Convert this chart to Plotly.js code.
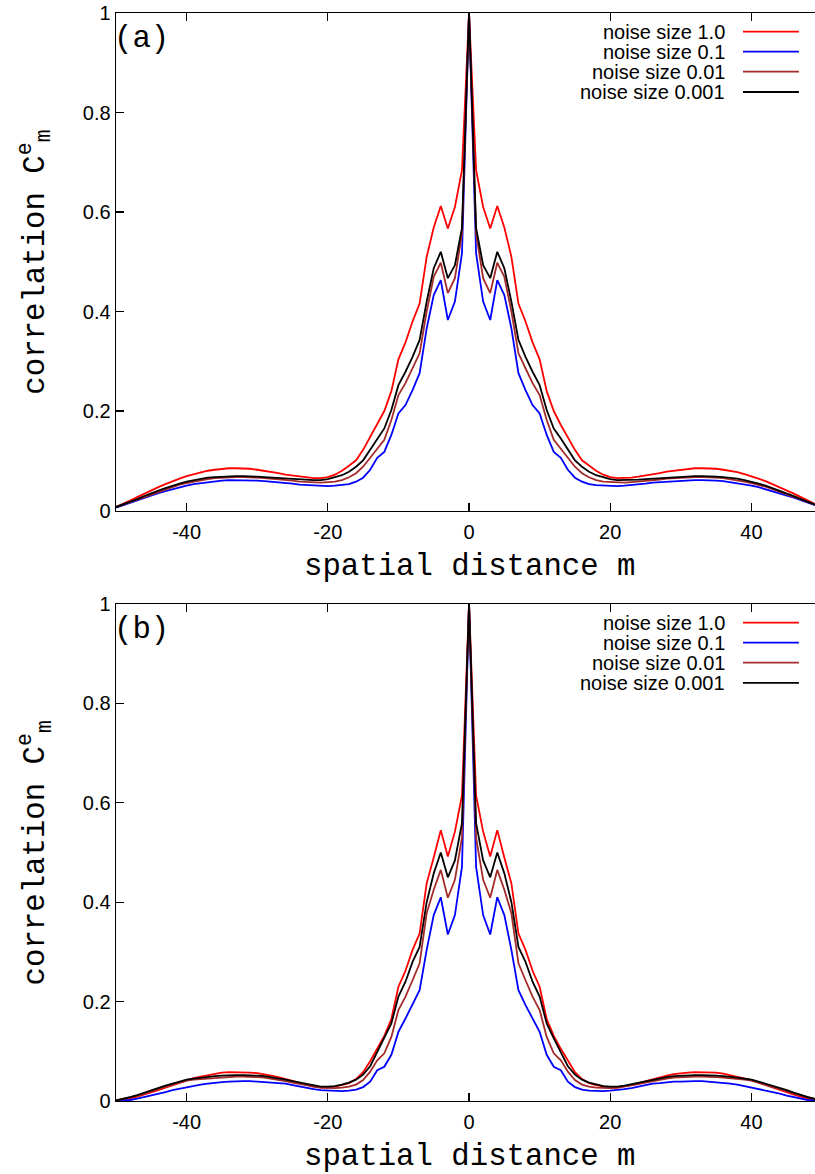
<!DOCTYPE html>
<html>
<head>
<meta charset="utf-8">
<script src="https://cdn.plot.ly/plotly-3.0.1.min.js"></script>
<style>
  html, body { margin: 0; padding: 0; background: #ffffff; }
  #chart { width: 815px; height: 1174px; }
</style>
</head>
<body>
<div id="chart"></div>
<script>
// spatial distance m on the lattice
const distance = [
  -50,-49,-48,-47,-46,-45,-44,-43,-42,-41,-40,-39,-38,-37,-36,-35,-34,-33,-32,-31,
  -30,-29,-28,-27,-26,-25,-24,-23,-22,-21,-20,-19,-18,-17,-16,-15,-14,-13,-12,-11,
  -10,-9,-8,-7,-6,-5,-4,-3,-2,-1,0,1,2,3,4,5,6,7,8,9,
  10,11,12,13,14,15,16,17,18,19,20,21,22,23,24,25,26,27,28,29,
  30,31,32,33,34,35,36,37,38,39,40,41,42,43,44,45,46,47,48,49
];

const seriesNames = ['noise size 1.0', 'noise size 0.1', 'noise size 0.01', 'noise size 0.001'];
const seriesColors = ['#ff0000', '#0000ff', '#a52a2a', '#000000'];
const panelLabels = ['(a)', '(b)'];
const xTickValues = [-40, -20, 0, 20, 40];
const xTickLabels = ['-40', '-20', '0', '20', '40'];
const yTickValues = [0, 0.2, 0.4, 0.6, 0.8, 1];
const yTickLabels = ['0', '0.2', '0.4', '0.6', '0.8', '1'];

// panel (a): correlation C^e_m
const a_noise1 = [
  0.007,0.013,0.020,0.027,0.034,0.041,0.047,0.053,0.059,0.064,
  0.069,0.073,0.077,0.080,0.082,0.084,0.085,0.085,0.085,0.084,
  0.082,0.080,0.078,0.075,0.072,0.070,0.068,0.066,0.065,0.065,
  0.067,0.072,0.080,0.090,0.101,0.122,0.148,0.172,0.200,0.240,
  0.304,0.338,0.380,0.416,0.510,0.569,0.612,0.567,0.610,0.684,
  1.000,
  0.684,0.610,0.567,0.612,0.569,0.510,0.416,0.380,0.338,0.304,
  0.240,0.200,0.172,0.148,0.122,0.101,0.090,0.080,0.072,0.067,
  0.065,0.065,0.066,0.068,0.070,0.072,0.075,0.078,0.080,0.082,
  0.084,0.085,0.085,0.085,0.084,0.082,0.080,0.077,0.073,0.069,
  0.064,0.059,0.053,0.047,0.041,0.034,0.027,0.020,0.013
];
const a_noise01 = [
  0.006,0.011,0.016,0.021,0.026,0.031,0.035,0.039,0.043,0.047,
  0.050,0.053,0.055,0.057,0.059,0.060,0.061,0.061,0.061,0.061,
  0.060,0.059,0.058,0.057,0.056,0.054,0.052,0.051,0.050,0.049,
  0.049,0.050,0.051,0.053,0.058,0.066,0.082,0.106,0.118,0.152,
  0.195,0.212,0.242,0.276,0.366,0.433,0.463,0.383,0.420,0.517,
  1.000,
  0.517,0.420,0.383,0.463,0.433,0.366,0.276,0.242,0.212,0.195,
  0.152,0.118,0.106,0.082,0.066,0.058,0.053,0.051,0.050,0.049,
  0.049,0.050,0.051,0.052,0.054,0.056,0.057,0.058,0.059,0.060,
  0.061,0.061,0.061,0.061,0.060,0.059,0.057,0.055,0.053,0.050,
  0.047,0.043,0.039,0.035,0.031,0.026,0.021,0.016,0.011
];
const a_noise001 = [
  0.007,0.012,0.017,0.022,0.028,0.033,0.038,0.043,0.048,0.052,
  0.055,0.058,0.061,0.063,0.065,0.066,0.067,0.067,0.067,0.067,
  0.066,0.065,0.064,0.062,0.061,0.060,0.058,0.057,0.056,0.056,
  0.057,0.058,0.061,0.067,0.075,0.088,0.106,0.125,0.142,0.182,
  0.232,0.256,0.286,0.316,0.400,0.470,0.498,0.437,0.467,0.557,
  1.000,
  0.557,0.467,0.437,0.498,0.470,0.400,0.316,0.286,0.256,0.232,
  0.182,0.142,0.125,0.106,0.088,0.075,0.067,0.061,0.058,0.057,
  0.056,0.056,0.057,0.058,0.060,0.061,0.062,0.064,0.065,0.066,
  0.067,0.067,0.067,0.067,0.066,0.065,0.063,0.061,0.058,0.055,
  0.052,0.048,0.043,0.038,0.033,0.028,0.022,0.017,0.012
];
const a_noise0001 = [
  0.007,0.012,0.017,0.023,0.029,0.035,0.040,0.045,0.050,0.054,
  0.058,0.061,0.064,0.066,0.067,0.068,0.069,0.069,0.069,0.069,
  0.068,0.067,0.066,0.065,0.064,0.063,0.062,0.061,0.061,0.061,
  0.063,0.067,0.071,0.078,0.088,0.101,0.123,0.145,0.165,0.202,
  0.252,0.279,0.309,0.343,0.420,0.487,0.520,0.467,0.493,0.568,
  1.000,
  0.568,0.493,0.467,0.520,0.487,0.420,0.343,0.309,0.279,0.252,
  0.202,0.165,0.145,0.123,0.101,0.088,0.078,0.071,0.067,0.063,
  0.061,0.061,0.061,0.062,0.063,0.064,0.065,0.066,0.067,0.068,
  0.069,0.069,0.069,0.069,0.068,0.067,0.066,0.064,0.061,0.058,
  0.054,0.050,0.045,0.040,0.035,0.029,0.023,0.017,0.012
];

// panel (b): correlation C^e_m
const b_noise1 = [
  0.001,0.003,0.005,0.009,0.013,0.018,0.022,0.027,0.032,0.037,
  0.042,0.046,0.049,0.052,0.055,0.057,0.058,0.058,0.058,0.057,
  0.056,0.054,0.051,0.048,0.044,0.040,0.036,0.032,0.029,0.027,
  0.027,0.029,0.032,0.036,0.044,0.058,0.080,0.105,0.131,0.165,
  0.230,0.262,0.304,0.337,0.438,0.490,0.545,0.492,0.542,0.615,
  1.000,
  0.615,0.542,0.492,0.545,0.490,0.438,0.337,0.304,0.262,0.230,
  0.165,0.131,0.105,0.080,0.058,0.044,0.036,0.032,0.029,0.027,
  0.027,0.029,0.032,0.036,0.040,0.044,0.048,0.051,0.054,0.056,
  0.057,0.058,0.058,0.058,0.057,0.055,0.052,0.049,0.046,0.042,
  0.037,0.032,0.027,0.022,0.018,0.013,0.009,0.005,0.003
];
const b_noise01 = [
  0.000,0.001,0.002,0.005,0.008,0.011,0.015,0.018,0.022,0.025,
  0.028,0.030,0.033,0.035,0.037,0.038,0.039,0.040,0.040,0.040,
  0.039,0.039,0.038,0.036,0.035,0.032,0.029,0.026,0.024,0.022,
  0.021,0.020,0.020,0.021,0.023,0.028,0.039,0.062,0.069,0.093,
  0.139,0.166,0.193,0.223,0.304,0.374,0.410,0.335,0.374,0.471,
  1.000,
  0.471,0.374,0.335,0.410,0.374,0.304,0.223,0.193,0.166,0.139,
  0.093,0.069,0.062,0.039,0.028,0.023,0.021,0.020,0.020,0.021,
  0.022,0.024,0.026,0.029,0.032,0.035,0.036,0.038,0.039,0.039,
  0.040,0.040,0.040,0.039,0.038,0.037,0.035,0.033,0.030,0.028,
  0.025,0.022,0.018,0.015,0.011,0.008,0.005,0.002,0.001
];
const b_noise001 = [
  0.001,0.004,0.007,0.011,0.015,0.020,0.025,0.029,0.033,0.037,
  0.041,0.043,0.044,0.046,0.047,0.048,0.049,0.049,0.049,0.049,
  0.048,0.047,0.045,0.043,0.040,0.037,0.034,0.031,0.029,0.027,
  0.026,0.026,0.027,0.029,0.033,0.042,0.059,0.082,0.096,0.129,
  0.183,0.210,0.243,0.277,0.378,0.425,0.465,0.409,0.445,0.530,
  1.000,
  0.530,0.445,0.409,0.465,0.425,0.378,0.277,0.243,0.210,0.183,
  0.129,0.096,0.082,0.059,0.042,0.033,0.029,0.027,0.026,0.026,
  0.027,0.029,0.031,0.034,0.037,0.040,0.043,0.045,0.047,0.048,
  0.049,0.049,0.049,0.049,0.048,0.047,0.046,0.044,0.043,0.041,
  0.037,0.033,0.029,0.025,0.020,0.015,0.011,0.007,0.004
];
const b_noise0001 = [
  0.001,0.004,0.008,0.012,0.017,0.022,0.027,0.031,0.035,0.039,
  0.043,0.045,0.047,0.049,0.050,0.051,0.052,0.052,0.052,0.052,
  0.051,0.050,0.048,0.046,0.043,0.040,0.037,0.034,0.031,0.029,
  0.029,0.030,0.033,0.037,0.043,0.053,0.070,0.099,0.126,0.156,
  0.210,0.240,0.280,0.310,0.400,0.458,0.500,0.450,0.484,0.559,
  1.000,
  0.559,0.484,0.450,0.500,0.458,0.400,0.310,0.280,0.240,0.210,
  0.156,0.126,0.099,0.070,0.053,0.043,0.037,0.033,0.030,0.029,
  0.029,0.031,0.034,0.037,0.040,0.043,0.046,0.048,0.050,0.051,
  0.052,0.052,0.052,0.052,0.051,0.050,0.049,0.047,0.045,0.043,
  0.039,0.035,0.031,0.027,0.022,0.017,0.012,0.008,0.004
];

const panels = [
  { series: [a_noise1, a_noise01, a_noise001, a_noise0001], xa: 'x', ya: 'y' },
  { series: [b_noise1, b_noise01, b_noise001, b_noise0001], xa: 'x2', ya: 'y2' }
];

const monoFont = '"Liberation Mono", "Courier New", monospace';
const sansFont = '"Liberation Sans", Arial, Helvetica, sans-serif';

const traces = [];
panels.forEach(p => {
  p.series.forEach((vals, i) => {
    traces.push({
      type: 'scatter', mode: 'lines',
      x: distance, y: vals,
      xaxis: p.xa, yaxis: p.ya,
      name: seriesNames[i],
      line: { color: seriesColors[i], width: 1.8 },
      showlegend: false, hoverinfo: 'skip'
    });
  });
});

function xAxisDef(anchor) {
  return {
    anchor: anchor, range: [-50, 49],
    tickmode: 'array', tickvals: xTickValues, ticktext: xTickLabels,
    ticks: 'inside', ticklen: 8, tickwidth: 1.2, tickcolor: '#000',
    ticklabelstandoff: 3,
    showline: true, linecolor: '#000', linewidth: 1.4, mirror: 'ticks',
    showgrid: false, zeroline: false,
    tickfont: { family: sansFont, size: 20, color: '#000' }
  };
}
function yAxisDef(anchor, domain) {
  return {
    anchor: anchor, domain: domain, range: [0, 1],
    tickmode: 'array', tickvals: yTickValues, ticktext: yTickLabels,
    ticks: 'inside', ticklen: 8, tickwidth: 1.2, tickcolor: '#000',
    showline: true, linecolor: '#000', linewidth: 1.4, mirror: false,
    showgrid: false, zeroline: false,
    tickfont: { family: sansFont, size: 20, color: '#000' }
  };
}

const annotations = [];
const shapes = [];
const legendRows = [0.9624, 0.9222, 0.882, 0.8412];
const xTitlePaperY = [0.4917, -0.0510];

panels.forEach((p, k) => {
  const xd = p.xa + ' domain';
  const yd = p.ya + ' domain';
  // legend: right-aligned label with the line sample to its right
  seriesNames.forEach((name, i) => {
    annotations.push({
      xref: xd, yref: yd, x: 0.874, y: legendRows[i],
      xanchor: 'right', yanchor: 'middle', showarrow: false,
      text: name, font: { family: sansFont, size: 20, color: '#000' }
    });
    shapes.push({
      type: 'line', xref: xd, yref: yd,
      x0: 0.897, x1: 0.977, y0: legendRows[i], y1: legendRows[i],
      line: { color: seriesColors[i], width: 1.8 }
    });
  });
  // panel tag
  annotations.push({
    xref: xd, yref: yd, x: 0, y: 0.948, xanchor: 'left', yanchor: 'middle',
    xshift: -4, showarrow: false, text: panelLabels[k],
    font: { family: monoFont, size: 30.7, color: '#000' }
  });
  // y axis title
  annotations.push({
    xref: 'paper', yref: yd, x: -0.116, y: 0.5, xanchor: 'center', yanchor: 'middle',
    textangle: -90, showarrow: false,
    text: 'correlation C<sup>e</sup><sub>m</sub>',
    font: { family: monoFont, size: 30.7, color: '#000' }
  });
  // x axis title
  annotations.push({
    xref: p.xa, yref: 'paper', x: 0, y: xTitlePaperY[k], xanchor: 'center', yanchor: 'middle',
    showarrow: false, text: 'spatial distance m',
    font: { family: monoFont, size: 30.7, color: '#000' }
  });
});

const layout = {
  width: 815, height: 1174,
  margin: { l: 116, r: 0, t: 13, b: 73, pad: 0 },
  paper_bgcolor: '#ffffff', plot_bgcolor: '#ffffff',
  showlegend: false,
  xaxis: xAxisDef('y'),
  yaxis: yAxisDef('x', [0.5427, 1]),
  xaxis2: xAxisDef('y2'),
  yaxis2: yAxisDef('x2', [0, 0.4568]),
  annotations: annotations,
  shapes: shapes
};

Plotly.newPlot('chart', traces, layout, { staticPlot: true, displayModeBar: false });
</script>
</body>
</html>
